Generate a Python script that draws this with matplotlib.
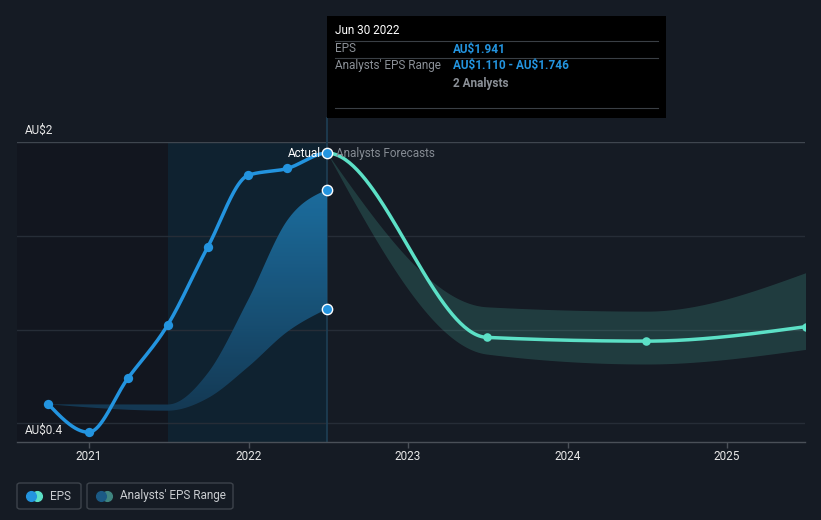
import numpy as np
import pandas as pd
import matplotlib
matplotlib.use("Agg")
import matplotlib.pyplot as plt
from matplotlib.patches import Rectangle, FancyBboxPatch
from matplotlib.lines import Line2D
from matplotlib.colors import LinearSegmentedColormap

plt.rcParams['font.family'] = ['Roboto', 'DejaVu Sans']

# ---------------- data ----------------
actual_dates = ["2020-09-30", "2020-12-31", "2021-03-31", "2021-06-30",
                "2021-09-30", "2021-12-31", "2022-03-31", "2022-06-30"]
eps_actual = [0.601, 0.452, 0.740, 1.024, 1.441, 1.822, 1.859, 1.941]

forecast_dates = ["2023-06-30", "2024-06-30", "2025-06-30"]
eps_forecast = [0.958, 0.938, 1.015]
forecast_low = [0.869, 0.816, 0.894]
forecast_high = [1.121, 1.098, 1.303]

hist_range_dates = ["2020-09-30", "2021-06-30", "2021-09-30", "2021-12-31",
                    "2022-03-31", "2022-06-30"]
hist_low = [0.601, 0.567, 0.634, 0.800, 0.988, 1.110]
hist_high = [0.601, 0.600, 0.768, 1.157, 1.583, 1.746]

year_ticks = [2021, 2022, 2023, 2024, 2025]

# ---------------- helpers ----------------
def dec_year(s):
    d = pd.Timestamp(s)
    start = pd.Timestamp(year=d.year, month=1, day=1)
    end = pd.Timestamp(year=d.year + 1, month=1, day=1)
    return d.year + (d - start) / (end - start)

def monotone(xs, ys, n=80):
    xs = np.asarray(xs, float); ys = np.asarray(ys, float)
    m = len(xs)
    h = np.diff(xs); s = np.diff(ys) / h
    t = np.zeros(m)
    sg = lambda v: -1.0 if v < 0 else 1.0
    if m == 2:
        t[:] = s[0]
    else:
        for i in range(1, m - 1):
            p = (s[i-1] * h[i] + s[i] * h[i-1]) / (h[i-1] + h[i])
            t[i] = (sg(s[i-1]) + sg(s[i])) * min(abs(s[i-1]), abs(s[i]), 0.5 * abs(p))
        t[0] = (3 * s[0] - t[1]) / 2
        t[-1] = (3 * s[-1] - t[-2]) / 2
    X, Y = [], []
    for i in range(m - 1):
        u = np.linspace(0, 1, n)
        hh = h[i]
        h00 = 2*u**3 - 3*u**2 + 1; h10 = u**3 - 2*u**2 + u
        h01 = -2*u**3 + 3*u**2; h11 = u**3 - u**2
        y = h00*ys[i] + h10*hh*t[i] + h01*ys[i+1] + h11*hh*t[i+1]
        X.append(xs[i] + u*hh); Y.append(y)
    return np.concatenate(X), np.concatenate(Y)

W, H = 821, 520
fx = lambda px: px / W
fy = lambda py: 1 - py / H

BG = "#151b24"
BLUE = "#2394df"
TEAL = "#5ce0c6"

fig = plt.figure(figsize=(8.21, 5.2), dpi=100, facecolor=BG)
ax = fig.add_axes([fx(17), fy(442), (805 - 17) / W, 300 / H])
ax.set_facecolor(BG)

xa = [dec_year(d) for d in actual_dates]
xf = [dec_year(d) for d in forecast_dates]
xh = [dec_year(d) for d in hist_range_dates]
x_now = xa[-1]

x_left = 2021 + (17 - 89) / 159.5
x_right = 2021 + (805 - 89) / 159.5
ax.set_xlim(x_left, x_right)
ax.set_ylim(0.4, 2.0)

# background regions
ax.axvspan(x_left, xa[3], color="#12161f", zorder=0, lw=0)
ax.axvspan(xa[3], x_now, color="#0f2230", zorder=0, lw=0)

# grid
for g in [0.5, 1.0, 1.5]:
    ax.axhline(g, color="#262d37", lw=1, zorder=1)
ax.axhline(2.0, color="#3f464f", lw=1, zorder=1)

# vertical "now" line extending up to tooltip
ax.plot([x_now, x_now], [0.4, 0.4 + 1.6 * (442 - 118) / 300], color="#1e3f55",
        lw=1.2, zorder=1, clip_on=False)

# historical analyst range (gradient fill)
hx, hlo = monotone(xh, hist_low)
_, hhi = monotone(xh, hist_high)
poly = ax.fill_between(hx, hlo, hhi, color="none", lw=0, zorder=2)
cmap = LinearSegmentedColormap.from_list("g", ["#153a55", "#1d74a8"])
grad = np.linspace(0, 1, 256).reshape(-1, 1)
im = ax.imshow(grad, extent=[xh[0], xh[-1], 0.55, 1.80], origin="lower",
               cmap=cmap, aspect="auto", zorder=2, alpha=0.95)
im.set_clip_path(poly.get_paths()[0], transform=ax.transData)

# forecast range
fxs = [x_now] + xf
fl_x, fl_y = monotone(fxs, [eps_actual[-1]] + forecast_low)
_, fh_y = monotone(fxs, [eps_actual[-1]] + forecast_high)
ax.fill_between(fl_x, fl_y, fh_y, color=TEAL, alpha=0.17, lw=0, zorder=2)

# EPS line (one series; actual in blue, forecast in teal)
all_x = xa + xf
all_y = eps_actual + eps_forecast
lx, ly = monotone(all_x, all_y)
mask_a = lx <= x_now + 1e-9
ax.plot(lx[mask_a], ly[mask_a], color=BLUE, lw=2.5, zorder=4, solid_capstyle="round")
ax.plot(lx[~mask_a], ly[~mask_a], color=TEAL, lw=2.5, zorder=4, solid_capstyle="round")

ax.scatter(xa[:-1], eps_actual[:-1], s=45, color=BLUE, zorder=5, lw=0)
ax.scatter(xf, eps_forecast, s=38, color=TEAL, zorder=5, lw=0)
ax.scatter([x_now], [eps_actual[-1]], s=55, color=BLUE, edgecolor="white",
           lw=1, zorder=6)
ax.scatter([x_now, x_now], [hist_low[-1], hist_high[-1]], s=55, color=BLUE,
           edgecolor="white", lw=1, zorder=6)

# Actual / Analysts Forecasts labels
ax.annotate("Actual", (x_now, eps_actual[-1]), xytext=(-6, 0),
            textcoords="offset pixels", ha="right", va="center",
            color="white", fontsize=8.5, zorder=7)
ax.annotate("Analysts Forecasts", (x_now, eps_actual[-1]), xytext=(9, 0),
            textcoords="offset pixels", ha="left", va="center",
            color="#858b93", fontsize=8.5, zorder=7)

# axes styling
for sp in ["top", "right", "left"]:
    ax.spines[sp].set_visible(False)
ax.spines["bottom"].set_color("#4a5058")
ax.spines["bottom"].set_linewidth(1)
ax.set_yticks([])
ax.set_xticks(year_ticks)
ax.set_xticklabels([str(y) for y in year_ticks])
ax.tick_params(axis="x", colors="#4a5058", length=4, width=1, pad=2,
               labelcolor="#e8e8e8", labelsize=8.5)

# y labels
fig.text(fx(25), fy(130), "AU\\$2", color="#e8e8e8", fontsize=8.5, va="center", ha="left")
fig.text(fx(25), fy(430), "AU\\$0.4", color="#e8e8e8", fontsize=8.5, va="center", ha="left")

# tooltip
fig.add_artist(Rectangle((fx(327), fy(118)), 339 / W, 102 / H,
                         transform=fig.transFigure, facecolor="black",
                         edgecolor="none", zorder=10))
for yy in [41, 58, 108]:
    fig.add_artist(Line2D([fx(335), fx(658)], [fy(yy), fy(yy)],
                          transform=fig.transFigure, color="#3a3f45",
                          lw=0.8, zorder=11))
fig.text(fx(335), fy(31), "Jun 30 2022", color="white", fontsize=8.5,
         va="center", zorder=12)
fig.text(fx(335), fy(49), "EPS", color="#8b9097", fontsize=8.5, va="center", zorder=12)
fig.text(fx(453), fy(49), "AU\\$1.941", color=BLUE, fontsize=8.5,
         fontweight="bold", va="center", zorder=12)
fig.text(fx(335), fy(66), "Analysts' EPS Range", color="#8b9097", fontsize=8.5,
         va="center", zorder=12)
fig.text(fx(453), fy(66), "AU\\$1.110 - AU\\$1.746", color=BLUE, fontsize=8.5,
         fontweight="bold", va="center", zorder=12)
fig.text(fx(453), fy(83), "2 Analysts", color="#8b9097", fontsize=8.5,
         fontweight="bold", va="center", zorder=12)

# legend
def legend_box(x0, x1, c1, c2, cx, label, tx):
    fig.add_artist(FancyBboxPatch((fx(x0), fy(509)), (x1 - x0) / W, 26 / H,
                                  boxstyle="round,pad=0,rounding_size=0.004",
                                  transform=fig.transFigure, facecolor="none",
                                  edgecolor="#3d434b", lw=1))
    fig.add_artist(Line2D([fx(cx + 6)], [fy(496)], marker="o", markersize=7,
                          color=c2, lw=0, transform=fig.transFigure))
    fig.add_artist(Line2D([fx(cx)], [fy(496)], marker="o", markersize=7,
                          color=c1, lw=0, transform=fig.transFigure))
    fig.text(fx(tx), fy(496), label, color="#c9ccd0", fontsize=8.5, va="center")

legend_box(17, 81, BLUE, TEAL, 31, "EPS", 50)
legend_box(87, 233, "#1b5a85", "#3f8580", 101, "Analysts' EPS Range", 120)

fig.savefig("out.png", dpi=100, facecolor=BG)
